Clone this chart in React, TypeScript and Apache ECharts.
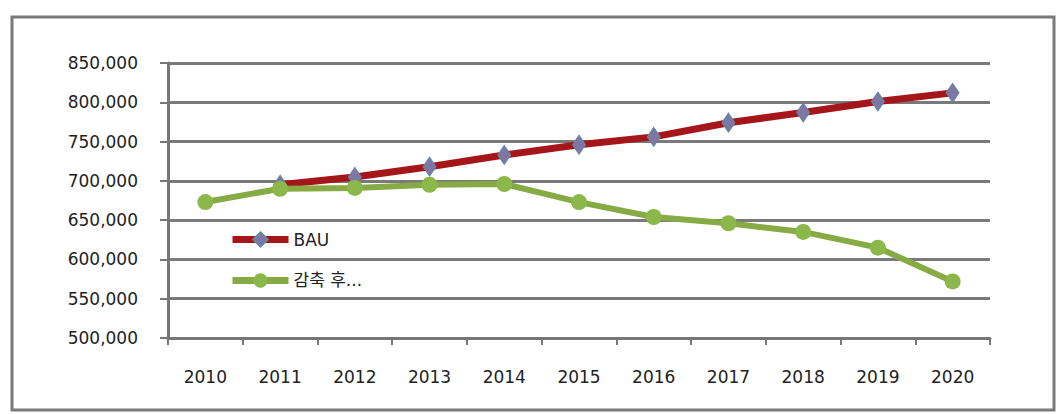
import React, { useEffect, useRef } from "react";
import * as echarts from "echarts";

const years = ["2010", "2011", "2012", "2013", "2014", "2015", "2016", "2017", "2018", "2019", "2020"];
const bauValues: (number | null)[] = [null, 695000, 705000, 718000, 733000, 746000, 756000, 774000, 787000, 801000, 812000];
const reducedValues = [673000, 690000, 691000, 695000, 696000, 673000, 654000, 646000, 635000, 615000, 572000];
const bauName = "BAU";
const reducedName = "감축 후...";

export default function App() {
  const ref = useRef<HTMLDivElement>(null);
  useEffect(() => {
    if (!ref.current) return;
    const chart = echarts.init(ref.current, null, { renderer: "svg" });
    const font = "'DejaVu Sans', 'Noto Sans CJK KR', sans-serif";
    chart.setOption({
      animation: false,
      backgroundColor: "#ffffff",
      graphic: [
        {
          type: "rect",
          shape: { x: 12, y: 17, width: 1042, height: 393 },
          style: { fill: "none", stroke: "#7a7a7a", lineWidth: 3 },
          silent: true,
        },
      ],
      grid: { left: 168, right: 72, top: 63, bottom: 76, containLabel: false },
      legend: {
        orient: "vertical",
        left: 224,
        top: 226,
        itemWidth: 56,
        itemHeight: 18,
        itemGap: 24,
        textStyle: { fontFamily: font, fontSize: 17, color: "#222" },
        data: [
          { name: bauName, lineStyle: { width: 7, color: "#a5161b" } },
          { name: reducedName, lineStyle: { width: 7, color: "#86ab45" } },
        ],
      },
      xAxis: {
        type: "category",
        data: years,
        boundaryGap: true,
        axisLine: { lineStyle: { color: "#777", width: 3 } },
        axisTick: { show: true, length: 7, lineStyle: { color: "#777", width: 2 } },
        axisLabel: { fontFamily: font, fontSize: 17, color: "#222", margin: 30 },
        splitLine: { show: false },
      },
      yAxis: {
        type: "value",
        min: 500000,
        max: 850000,
        interval: 50000,
        axisLine: { show: true, lineStyle: { color: "#777", width: 3 } },
        axisTick: { show: true, length: 8, lineStyle: { color: "#777", width: 2 } },
        axisLabel: {
          fontFamily: font,
          fontSize: 17,
          color: "#222",
          margin: 30,
          formatter: (v: number) => v.toLocaleString("en-US"),
        },
        splitLine: { show: true, lineStyle: { color: "#7a7a7a", width: 3 } },
      },
      series: [
        {
          name: bauName,
          type: "line",
          data: bauValues,
          symbol: "diamond",
          symbolSize: [13, 19],
          lineStyle: { color: "#a5161b", width: 7 },
          itemStyle: { color: "#7d76a6", borderColor: "#5f8aa0", borderWidth: 1 },
          color: "#a5161b",
          z: 2,
        },
        {
          name: reducedName,
          type: "line",
          data: reducedValues,
          symbol: "circle",
          symbolSize: 16,
          lineStyle: { color: "#86ab45", width: 6 },
          itemStyle: { color: "#8cb74a" },
          color: "#86ab45",
          z: 3,
        },
      ],
    });
    return () => chart.dispose();
  }, []);
  return (
    <div
      ref={ref}
      style={{ position: "fixed", left: 0, top: 0, width: 1062, height: 414 }}
    />
  );
}
